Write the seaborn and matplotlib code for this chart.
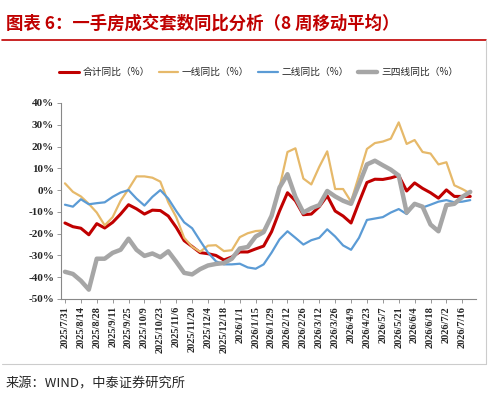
import matplotlib
matplotlib.use("Agg")
import matplotlib.pyplot as plt
import seaborn as sns
import pandas as pd
import numpy as np
from matplotlib.ticker import FuncFormatter
from matplotlib.lines import Line2D

sns.set_theme(style="white")
plt.rcParams['font.family'] = ['Noto Sans CJK SC', 'DejaVu Sans']

dates = pd.date_range("2025-07-31", periods=52, freq="7D")
total = [-15.1,-16.8,-17.5,-20.5,-15.4,-17.4,-14.8,-11,-6.7,-8.6,-11,-9.2,-9.4,-11.9,-17.1,-23.2,-25.9,-28.7,-29.2,-30,-32.1,-30.7,-28.4,-28.4,-27,-25.7,-19.1,-9.6,-1.2,-4.9,-11.3,-11,-7.6,-2.6,-9.6,-11.9,-15.1,-5.6,3.5,5,4.9,5.6,6.7,-0.4,3.3,0.8,-1.2,-3.7,0.1,-2.9,-2.9,-2.9]
tier1 = [3.1,-0.8,-2.9,-6.3,-10.3,-16.2,-12.4,-4.9,0.5,6.3,6.3,5.7,3.9,-5.6,-12.4,-21.9,-26,-28.3,-25.5,-25.3,-28,-27.6,-21.6,-19.8,-18.8,-18.5,-12.4,1.2,17.5,19.2,5.3,2.6,10.7,17.8,0.5,0.5,-5.3,6.7,18.9,21.6,22.3,23.6,31.1,21.2,23,17.5,16.8,11.8,12.8,2.2,0.5,-1.5]
tier2 = [-6.7,-7.6,-4.2,-6.5,-6,-5.6,-3.1,-1.1,0,-3.9,-7.1,-3.1,0,-3.9,-9.6,-14.8,-17.5,-23.2,-28.7,-32.7,-34.1,-34.1,-33.8,-35.5,-36.1,-34.1,-28.7,-22.6,-18.9,-21.9,-25,-23,-21.9,-18,-21.3,-25.4,-27.4,-21.9,-13.7,-13.05,-12.4,-10.3,-8.7,-11,-6.5,-8,-6.7,-5.3,-4.6,-5.6,-5.3,-4.6]
tier34 = [-37.5,-38.5,-41.6,-45.7,-31.5,-31.5,-28.8,-27.4,-22.3,-27.4,-30.2,-29.1,-30.8,-28.1,-32.9,-38,-38.7,-36.3,-34.6,-33.9,-33.5,-31.5,-26.8,-26.1,-21.3,-19.3,-11.8,1.2,7.3,-3.1,-10.3,-8.3,-6.9,-0.4,-2.9,-4.9,-6.3,2.6,11.8,13.5,11.4,9.4,6.7,-10.3,-6.3,-7.6,-15.8,-18.9,-6.9,-6.3,-3.1,-0.8]
names = ["合计同比（%）", "一线同比（%）", "二线同比（%）", "三四线同比（%）"]
colors = ["#C00000", "#E6B96A", "#5B9BD5", "#A6A6A6"]
widths = [2.2, 1.6, 1.6, 3.2]

x = np.arange(len(dates))
df = pd.concat([pd.DataFrame({"x": x, "v": s, "series": n}) for s, n in zip([total, tier1, tier2, tier34], names)])

fig = plt.figure(figsize=(4.88, 4.0), dpi=100)
ax = fig.add_axes([0.125, 0.2525, 0.85, 0.49])
sns.lineplot(data=df, x="x", y="v", hue="series", palette=dict(zip(names, colors)), ax=ax, legend=False)
for line, w in zip(ax.get_lines(), widths):
    line.set_linewidth(w)

ax.set_ylim(-50, 40)
ax.set_xlim(-0.5, len(dates) - 0.3)
ax.set_yticks(range(-50, 41, 10))
ax.yaxis.set_major_formatter(FuncFormatter(lambda v, p: f"{int(v)}%"))
ticks = x[::2]
ax.set_xticks(ticks)
ax.set_xticklabels([f"{d.year}/{d.month}/{d.day}" for d in dates[::2]], rotation=90,
                   family="Liberation Serif", fontsize=7.5, fontweight="bold")
for t in ax.get_yticklabels():
    t.set_family("Liberation Serif"); t.set_fontsize(8); t.set_fontweight("bold")
ax.set_xlabel(""); ax.set_ylabel("")
for s in ["top", "right"]:
    ax.spines[s].set_visible(False)
for s in ["left", "bottom"]:
    ax.spines[s].set_color("#888888"); ax.spines[s].set_linewidth(0.8)
ax.tick_params(axis="both", length=3, width=0.6, color="#888888", direction="out", pad=2, bottom=True, left=True)

handles = [Line2D([], [], color=c, lw=w) for c, w in zip(colors, widths)]
fig.legend(handles, names, loc="center", bbox_to_anchor=(0.53, 0.82), ncol=4, frameon=False,
           fontsize=7, handlelength=2.0, columnspacing=0.9, handletextpad=0.4)

fig.text(0.012, 0.94, "图表 6：一手房成交套数同比分析（8 周移动平均）", color="#C00000",
         fontsize=12.5, fontweight="bold", va="center")
fig.add_artist(Line2D([0.005, 0.995], [0.9, 0.9], color="#C00000", lw=1.2))
fig.add_artist(Line2D([0.995, 0.995], [0.09, 0.9], color="#CCCCCC", lw=0.8))
fig.add_artist(Line2D([0.005, 0.995], [0.09, 0.09], color="#CCCCCC", lw=0.8))
fig.text(0.012, 0.04, "来源：WIND，中泰证券研究所", fontsize=9.5, va="center")

fig.savefig("out.png", dpi=100)
